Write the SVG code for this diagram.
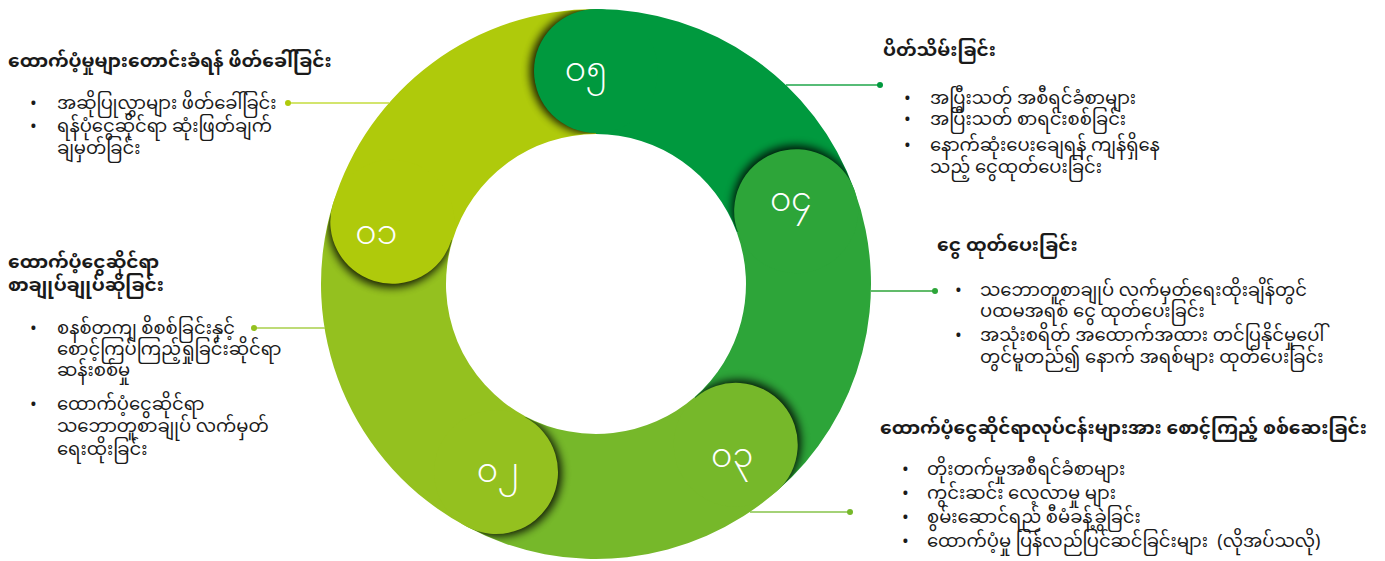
<svg xmlns="http://www.w3.org/2000/svg" width="1385" height="561" viewBox="0 0 1385 561">
<style>
text{font-family:"Noto Sans Myanmar","Padauk","Myanmar Text","Noto Sans",sans-serif;fill:#1a1a1a}
.t{font-size:18.6px;font-weight:bold}
.b{font-size:18px}
.n{font-size:33px;fill:#fff;text-anchor:middle;font-weight:300}
.cl{fill:none;stroke-width:1.5}
.sh{fill:#000;opacity:0.85;filter:url(#sh)}
</style>
<defs>
<filter id="sh" x="-50%" y="-50%" width="200%" height="200%"><feGaussianBlur stdDeviation="4"/></filter>
<clipPath id="fw" clipPathUnits="userSpaceOnUse"><rect x="596" y="0" width="320" height="284"/></clipPath>
<clipPath id="ann" clipPathUnits="userSpaceOnUse"><path clip-rule="evenodd" d="M596,9.5 A274.5,274.5 0 1 1 595.9,9.5 Z M596,133.5 A150.5,150.5 0 1 0 596.1,133.5 Z"/></clipPath>
</defs>
<g id="ring">
<path id="band01" fill="#AFCA0B" d="M333.02,203.6 A275,275 0 0 1 596,9 L596,134 A150,150 0 0 0 452.55,240.14 Z"/>
<path id="band02" fill="#94C11F" d="M466.9,526.81 A275,275 0 0 1 333.02,203.6 L452.55,240.14 A150,150 0 0 0 525.58,416.44 Z"/>
<path id="band03" fill="#76B82A" d="M776.42,491.55 A275,275 0 0 1 466.9,526.81 L525.58,416.44 A150,150 0 0 0 694.41,397.21 Z"/>
<path id="band04" fill="#2DA539" d="M854.41,189.94 A275,275 0 0 1 776.42,491.55 L694.41,397.21 A150,150 0 0 0 736.95,232.7 Z"/>
<path id="band05" fill="#00993E" d="M596,9 A275,275 0 0 1 854.41,189.94 L736.95,232.7 A150,150 0 0 0 596,134 Z"/>
</g>
<g id="node01"><g transform="rotate(197 596 284)"><g clip-path="url(#ann)"><circle class="sh" cx="809" cy="281" r="63" clip-path="url(#fw)"/></g><circle cx="809" cy="284" r="62" fill="#AFCA0B"/></g><text class="n" x="376" y="244">၀၁</text></g>
<g id="node02"><g transform="rotate(118 596 284)"><g clip-path="url(#ann)"><circle class="sh" cx="809" cy="281" r="63" clip-path="url(#fw)"/></g><circle cx="809" cy="284" r="62" fill="#94C11F"/></g><text class="n" x="498" y="482">၀၂</text></g>
<g id="node03"><g transform="rotate(49 596 284)"><g clip-path="url(#ann)"><circle class="sh" cx="809" cy="281" r="63" clip-path="url(#fw)"/></g><circle cx="809" cy="284" r="62" fill="#76B82A"/></g><text class="n" x="732" y="467">၀၃</text></g>
<g id="node04"><g transform="rotate(340 596 284)"><g clip-path="url(#ann)"><circle class="sh" cx="809" cy="281" r="63" clip-path="url(#fw)"/></g><circle cx="809" cy="284" r="62" fill="#2DA539"/></g><text class="n" x="791" y="211">၀၄</text></g>
<g id="node05"><g transform="rotate(270 596 284)"><g clip-path="url(#ann)"><circle class="sh" cx="809" cy="281" r="63" clip-path="url(#fw)"/></g><circle cx="809" cy="284" r="62" fill="#00993E"/></g><text class="n" x="586" y="81">၀၅</text></g>
<g id="connectors">
<line class="cl" stroke="#C5DC3C" x1="288" y1="103" x2="389" y2="103"/><circle cx="288" cy="103" r="3" fill="#AFCA0B"/>
<line class="cl" stroke="#A9CF4A" x1="254" y1="328" x2="325" y2="328"/><circle cx="254" cy="328" r="3" fill="#94C11F"/>
<line class="cl" stroke="#1FA64A" x1="786" y1="85" x2="880" y2="85"/><circle cx="880" cy="85" r="3" fill="#00993E"/>
<line class="cl" stroke="#2DA539" x1="871" y1="291" x2="935" y2="291"/><circle cx="935" cy="291" r="3" fill="#2DA539"/>
<line class="cl" stroke="#86C34A" x1="750" y1="512" x2="850" y2="512"/><circle cx="850" cy="512" r="3" fill="#76B82A"/>
</g>
<g id="text01">
<text class="t" x="8" y="67">ထောက်ပံ့မှုများတောင်းခံရန် ဖိတ်ခေါ်ခြင်း</text>
<text class="b" x="30" y="109">•</text><text class="b" x="57" y="109">အဆိုပြုလွှာများ ဖိတ်ခေါ်ခြင်း</text>
<text class="b" x="30" y="132">•</text><text class="b" x="57" y="132">ရန်ပုံငွေဆိုင်ရာ ဆုံးဖြတ်ချက်</text>
<text class="b" x="57" y="154">ချမှတ်ခြင်း</text>
</g>
<g id="text02">
<text class="t" x="8" y="268">ထောက်ပံ့ငွေဆိုင်ရာ</text>
<text class="t" x="8" y="291">စာချုပ်ချုပ်ဆိုခြင်း</text>
<text class="b" x="30" y="334">•</text><text class="b" x="57" y="334">စနစ်တကျ စိစစ်ခြင်းနှင့်</text>
<text class="b" x="57" y="355">စောင့်ကြပ်ကြည့်ရှုခြင်းဆိုင်ရာ</text>
<text class="b" x="57" y="376">ဆန်းစစ်မှု</text>
<text class="b" x="30" y="410">•</text><text class="b" x="57" y="410">ထောက်ပံ့ငွေဆိုင်ရာ</text>
<text class="b" x="57" y="432">သဘောတူစာချုပ် လက်မှတ်</text>
<text class="b" x="57" y="455">ရေးထိုးခြင်း</text>
</g>
<g id="text05">
<text class="t" x="883" y="56">ပိတ်သိမ်းခြင်း</text>
<text class="b" x="904" y="104">•</text><text class="b" x="930" y="104">အပြီးသတ် အစီရင်ခံစာများ</text>
<text class="b" x="904" y="125">•</text><text class="b" x="930" y="125">အပြီးသတ် စာရင်းစစ်ခြင်း</text>
<text class="b" x="904" y="151">•</text><text class="b" x="930" y="151">နောက်ဆုံးပေးချေရန် ကျန်ရှိနေ</text>
<text class="b" x="930" y="173">သည့် ငွေထုတ်ပေးခြင်း</text>
</g>
<g id="text04">
<text class="t" x="937" y="251">ငွေ ထုတ်ပေးခြင်း</text>
<text class="b" x="955" y="296">•</text><text class="b" x="980" y="296">သဘောတူစာချုပ် လက်မှတ်ရေးထိုးချိန်တွင်</text>
<text class="b" x="980" y="317">ပထမအရစ် ငွေ ထုတ်ပေးခြင်း</text>
<text class="b" x="955" y="341">•</text><text class="b" x="980" y="341">အသုံးစရိတ် အထောက်အထား တင်ပြနိုင်မှုပေါ်</text>
<text class="b" x="980" y="363">တွင်မူတည်၍ နောက် အရစ်များ ထုတ်ပေးခြင်း</text>
</g>
<g id="text03">
<text class="t" x="880" y="434">ထောက်ပံ့ငွေဆိုင်ရာလုပ်ငန်းများအား စောင့်ကြည့် စစ်ဆေးခြင်း</text>
<text class="b" x="902" y="475">•</text><text class="b" x="927" y="475">တိုးတက်မှုအစီရင်ခံစာများ</text>
<text class="b" x="902" y="499">•</text><text class="b" x="927" y="499">ကွင်းဆင်း လေ့လာမှု များ</text>
<text class="b" x="902" y="523">•</text><text class="b" x="927" y="523">စွမ်းဆောင်ရည် စီမံခန့်ခွဲခြင်း</text>
<text class="b" x="902" y="547">•</text><text class="b" x="927" y="547" xml:space="preserve">ထောက်ပံ့မှု ပြန်လည်ပြင်ဆင်ခြင်းများ  (လိုအပ်သလို)</text>
</g>
</svg>
